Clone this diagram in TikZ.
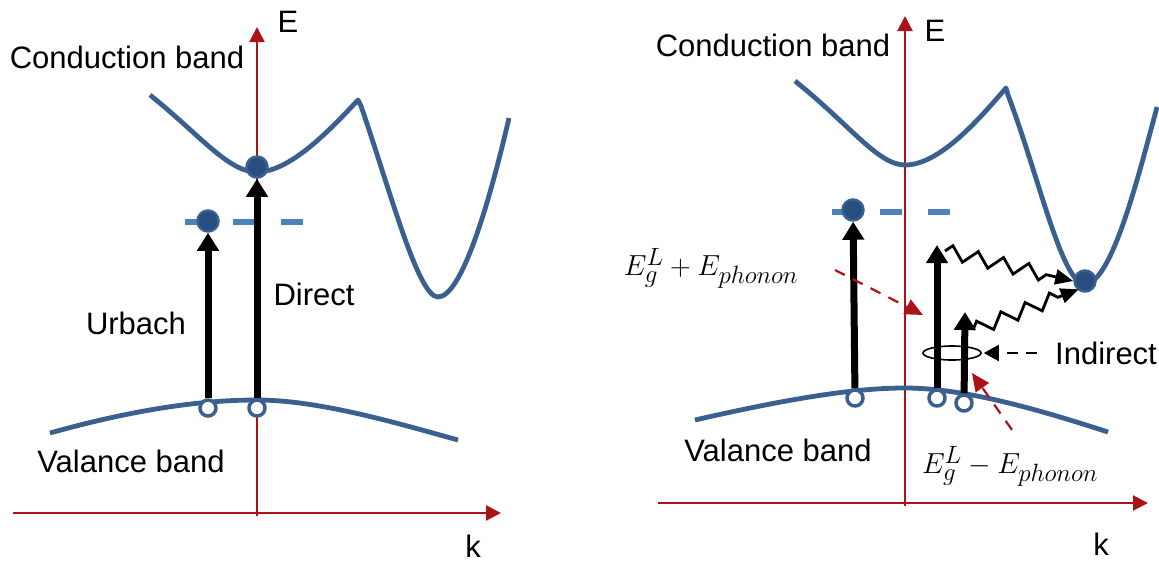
\RequirePackage{fix-cm}
\documentclass[tikz,border=0pt]{standalone}
\usepackage{amsmath}
\usepackage{fontspec}
\setmainfont{Liberation Sans}
\usetikzlibrary{arrows.meta,positioning,calc,shapes.geometric,decorations.pathmorphing}
\definecolor{bandblue}{RGB}{58,96,143}
\definecolor{levelblue}{RGB}{79,129,189}
\definecolor{dotblue}{RGB}{40,78,128}
\definecolor{axisred}{RGB}{172,18,24}
\DeclareMathSizes{29}{29}{25}{19}

\begin{document}
\begin{tikzpicture}[x=1pt,y=-1pt,>=Triangle]
\tikzset{
  axis/.style={draw=axisred,line width=2.2pt,-{Triangle[width=15pt,length=15pt]}},
  band/.style={draw=bandblue,line width=4.8pt,line join=round},
  level/.style={draw=levelblue,line width=5.5pt,dash pattern=on 22pt off 26pt},
  elec/.style={circle,fill=dotblue,draw=bandblue,line width=2.5pt,minimum size=21pt,inner sep=0pt},
  hole/.style={circle,fill=white,draw=bandblue,line width=3.5pt,minimum size=16pt,inner sep=0pt},
  exc/.style={line width=7pt,-{Triangle[width=21pt,length=18pt]}},
  phon/.style={line width=2.8pt,line join=miter,-{Triangle[width=15pt,length=18pt]},
    decorate,decoration={zigzag,segment length=26pt,amplitude=7pt,post length=16pt}},
  hint/.style={draw=axisred,line width=2.2pt,dash pattern=on 11pt off 9pt,-{Triangle[width=16pt,length=18pt]}},
  lbl/.style={inner sep=0pt,font=\fontsize{31}{36}\selectfont},
  mlbl/.style={inner sep=0pt,font=\fontsize{29}{34}\selectfont}
}
\useasboundingbox (0,0) rectangle (1159,563);

% left panel: direct gap
\coordinate (ko1) at (13,513);
\coordinate (kx1) at (501,513);
\coordinate (eo1) at (257,516);
\coordinate (ey1) at (257,27);
\draw[axis] (ko1) -- (kx1);
\draw[axis] (eo1) -- (ey1);
\node[lbl] (E1) at (288,22) {E};
\node[lbl] (k1) at (473,546) {k};

\draw[band] (150,95) .. controls (200,135) and (228,172) .. (257,172)
  .. controls (290,172) and (330,130) .. (358,100)
  -- (361,106) .. controls (390,190) and (418,297) .. (438,297)
  .. controls (462,297) and (490,200) .. (509,118);
\draw[band] (50,433) .. controls (150,405) and (215,400) .. (257,400)
  .. controls (320,400) and (400,424) .. (458,440);

\coordinate (lv1a) at (185,222);
\coordinate (lv1b) at (305,222);
\draw[level] (lv1a) -- (lv1b);

\node[elec] (e1) at (208,221) {};
\node[elec] (e2) at (257,167) {};
\node[hole] (h1) at (208,408) {};
\node[hole] (h2) at (257,408) {};
\draw[exc] (h1) -- (e1);
\draw[exc] (h2) -- (e2);

\node[lbl] (cb1) at (127,57) {Conduction band};
\node[lbl] (vb1) at (131,461) {Valance band};
\node[lbl] (urb) at (136,323) {Urbach};
\node[lbl] (dir) at (314,294) {Direct};

% right panel: indirect gap
\coordinate (ko2) at (658,503);
\coordinate (kx2) at (1148,503);
\coordinate (eo2) at (905,506);
\coordinate (ey2) at (905,16);
\draw[axis] (ko2) -- (kx2);
\draw[axis] (eo2) -- (ey2);
\node[lbl] (E2) at (935,31) {E};
\node[lbl] (k2) at (1101,544) {k};

\draw[band] (795,81) .. controls (850,125) and (878,165) .. (905,165)
  .. controls (940,165) and (980,118) .. (1006,88)
  -- (1008,95) .. controls (1040,180) and (1062,284) .. (1085,284)
  .. controls (1112,284) and (1140,170) .. (1157,107);
\draw[band] (695,420) .. controls (800,396) and (860,388) .. (905,388)
  .. controls (965,388) and (1040,410) .. (1108,432);

\coordinate (lv2a) at (832,212);
\coordinate (lv2b) at (951,212);
\draw[level] (lv2a) -- (lv2b);

\node[elec] (e3) at (853,210) {};
\node[elec] (e4) at (1085,281) {};
\node[hole] (h3) at (855,398) {};
\node[hole] (h4) at (937,398) {};
\node[hole] (h5) at (964,403) {};
\coordinate (t4) at (937,245);
\coordinate (t5) at (965,312);
\draw[exc] (h3) -- (e3);
\draw[exc] (h4) -- (t4);
\draw[exc] (h5) -- (t5);
\draw[phon] ($(t4)+(8,6)$) -- (e4.west);
\draw[phon] ($(t5)+(8,18)$) -- ($(e4.south west)+(2,0)$);

\node[ellipse,draw,line width=1.6pt,minimum width=58pt,minimum height=14pt,inner sep=0pt] (loop) at (952,353) {};
\node[lbl,anchor=west] (ind) at (1055,353) {Indirect};
\draw[line width=2.2pt,dash pattern=on 11pt off 8pt,-{Triangle[width=16pt,length=15pt]}] (ind.west) ++(-18,0) -- ($(loop.east)+(2,0)$);

\node[lbl] (cb2) at (773,45) {Conduction band};
\node[lbl] (vb2) at (778,450) {Valance band};
\node[mlbl] (lplus) at (711,268) {$E_g^L+E_{phonon}$};
\node[mlbl] (lminus) at (1010,466) {$E_g^L-E_{phonon}$};
\coordinate (p1) at (923,315);
\coordinate (p2) at (972,373);
\draw[hint] (835,270) -- (p1);
\draw[hint] ($(lminus.north)+(2,-16)$) -- (p2);
\end{tikzpicture}
\end{document}
